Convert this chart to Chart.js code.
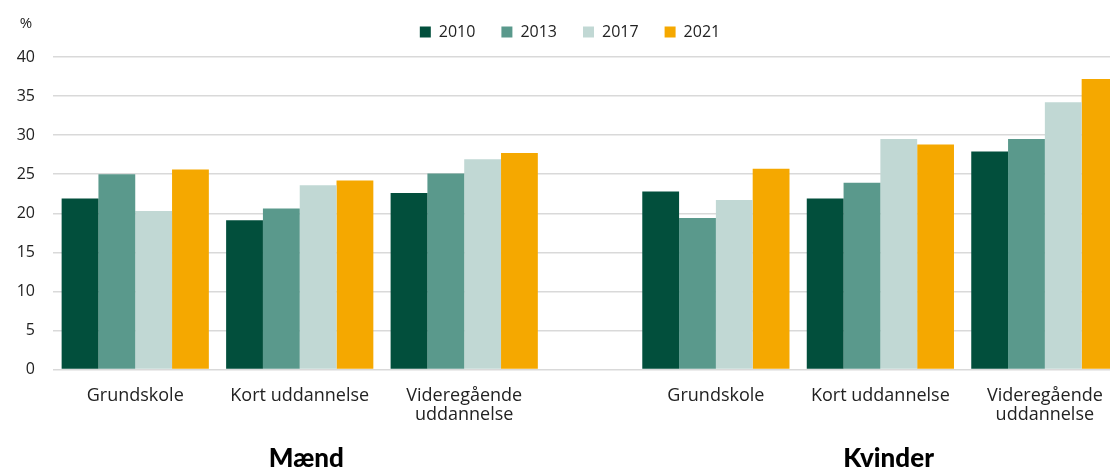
<!DOCTYPE html>
<html>
<head>
<meta charset="utf-8">
<script src="https://cdn.jsdelivr.net/npm/chart.js@4"></script>
<style>
  html, body { margin: 0; padding: 0; background: #fff; }
</style>
</head>
<body>
<canvas id="chart" width="1110" height="468"></canvas>
<script>
// Data
const categories = ['Grundskole', 'Kort uddannelse', ['Videregående', 'uddannelse'],
                    'Grundskole', 'Kort uddannelse', ['Videregående', 'uddannelse']];
// category positions on the x axis (narrow gap between the two groups)
const categoryPositions = [0, 1, 2, 3.53, 4.53, 5.53];
const groups = ['Mænd', 'Kvinder'];
const groupCenters = [1.04, 4.58];
const years = ['2010', '2013', '2017', '2021'];
const values2010 = [21.9, 19.1, 22.6, 22.8, 21.9, 27.9];
const values2013 = [25.0, 20.6, 25.1, 19.4, 23.9, 29.5];
const values2017 = [20.3, 23.6, 26.9, 21.7, 29.5, 34.2];
const values2021 = [25.6, 24.2, 27.7, 25.7, 28.8, 37.2];
const yMin = 0, yMax = 40, yStep = 5;

const colors = ['#024f3c', '#5a998c', '#c1d8d4', '#f5a800'];
const textColor = '#222222';
const font = '"Open Sans", sans-serif';

function toPoints(values) {
    return values.map((v, i) => ({ x: categoryPositions[i], y: v }));
}

const seriesValues = [values2010, values2013, values2017, values2021];

// '%' label, group titles, and legend nudge
const extraText = {
    id: 'extraText',
    afterLayout(chart) {
        const lg = chart.legend;
        lg.top -= 7; lg.bottom -= 7;
        lg.left += 15; lg.right += 15;
    },
    afterDraw(chart) {
        const { ctx } = chart;
        const x = chart.scales.x;
        ctx.save();
        ctx.fillStyle = textColor;
        ctx.textAlign = 'center';
        ctx.textBaseline = 'middle';
        ctx.font = '15px ' + font;
        ctx.fillText('%', 26, 24);
        ctx.textBaseline = 'alphabetic';
        ctx.font = '900 26px Lato, sans-serif';
        ctx.fillStyle = '#000';
        groups.forEach((g, i) => ctx.fillText(g, x.getPixelForValue(groupCenters[i]), 467));
        ctx.restore();
    }
};

const ctx = document.getElementById('chart').getContext('2d');
new Chart(ctx, {
    type: 'bar',
    data: {
        datasets: years.map((year, i) => ({
            label: year,
            data: toPoints(seriesValues[i]),
            backgroundColor: colors[i],
            borderWidth: 0,
            categoryPercentage: 0.895,
            barPercentage: 1
        }))
    },
    options: {
        responsive: false,
        animation: false,
        layout: { padding: { top: 5, left: 0, right: 0, bottom: 0 } },
        plugins: {
            legend: {
                position: 'top',
                labels: {
                    boxWidth: 11,
                    boxHeight: 11,
                    padding: 26,
                    color: textColor,
                    font: { family: font, size: 16 }
                }
            },
            tooltip: { enabled: false }
        },
        scales: {
            x: {
                type: 'linear',
                offset: false,
                bounds: 'data',
                min: -0.5,
                max: 5.926,
                grid: { display: false, drawTicks: false, offset: false },
                border: { display: false },
                afterBuildTicks: s => { s.ticks = categoryPositions.map(v => ({ value: v })); },
                afterFit: s => { s.height = 98.5; s.paddingLeft = 0; s.paddingRight = 0; },
                ticks: {
                    autoSkip: false,
                    maxRotation: 0,
                    padding: 16,
                    color: textColor,
                    font: { family: font, size: 18, lineHeight: 1.1 },
                    callback: (v, i) => categories[i]
                }
            },
            y: {
                min: yMin,
                max: yMax,
                afterFit: s => { s.width = 53; },
                grid: { color: '#d9d9d9', lineWidth: 1.5, drawTicks: false },
                border: { display: false },
                ticks: {
                    stepSize: yStep,
                    padding: 18,
                    color: textColor,
                    font: { family: font, size: 16 }
                }
            }
        }
    },
    plugins: [extraText]
});
</script>
</body>
</html>
